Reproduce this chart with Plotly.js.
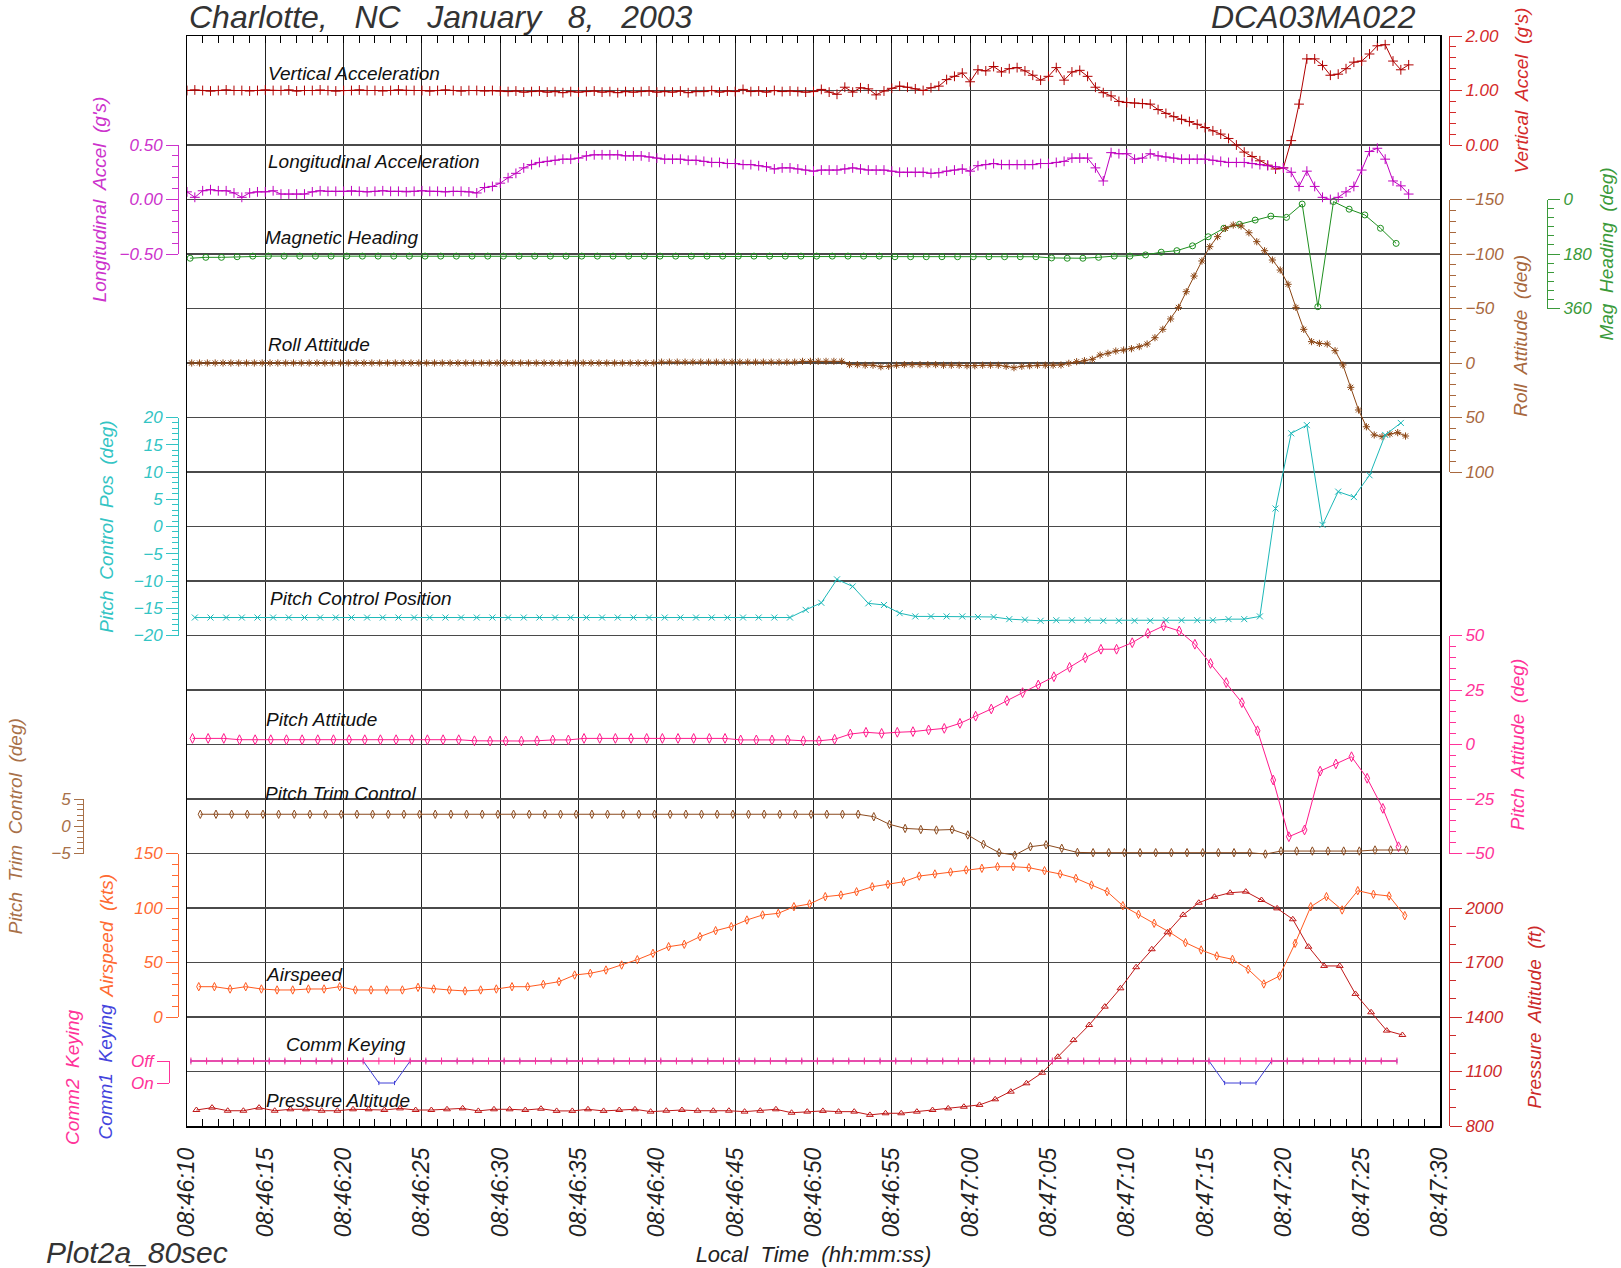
<!DOCTYPE html>
<html><head><meta charset="utf-8">
<script src="https://cdn.plot.ly/plotly-3.0.1.min.js"></script>
<style>html,body{margin:0;padding:0;background:#fff}#chart{width:1621px;height:1268px}</style>
</head><body><div id="chart"></div>
<script>
// ================= DATA =================
// Times are seconds after 08:46:00 local; each series has a start time and a sample step.
const vertAccelStart = 10, vertAccelStep = 0.5;
const vertAccel = [
 1.00,1.01,1.00,0.99,1.00,1.01,1.00,1.00,0.99,1.00,
 1.01,1.00,1.00,1.01,0.99,1.00,1.00,1.01,1.00,0.99,
 1.00,1.00,1.01,1.00,1.00,0.99,1.00,1.01,1.00,1.00,
 1.00,0.99,1.00,1.01,1.00,0.99,1.00,1.00,0.99,1.00,
 0.99,0.98,0.99,0.97,0.98,0.99,0.97,0.98,0.96,0.98,
 0.97,0.98,0.99,0.97,0.98,0.96,0.98,0.97,0.98,0.99,
 0.97,0.98,0.97,0.99,0.96,0.98,0.98,1.00,0.97,0.99,
 0.98,1.02,0.98,0.99,0.97,1.00,0.98,0.99,
 0.98,0.97,0.98,1.02,0.97,0.93,1.06,0.97,1.05,1.03,
 0.92,0.99,1.04,1.08,1.06,1.03,1.00,1.05,1.08,1.20,
 1.26,1.32,1.16,1.38,1.36,1.44,1.34,1.40,1.42,1.36,
 1.28,1.19,1.26,1.42,1.19,1.34,1.37,1.26,1.06,0.96,
 0.90,0.80,0.78,0.77,0.76,0.75,0.65,0.58,0.52,0.47,
 0.43,0.38,0.32,0.26,0.20,0.12,0.00,-0.13,-0.21,-0.29,
 -0.37,-0.44,-0.42,0.08,0.75,1.58,1.58,1.46,1.28,1.30,
 1.40,1.52,1.54,1.67,1.82,1.84,1.54,1.38,1.47
];
const longAccelStart = 10, longAccelStep = 0.5;
const longAccel = [
 0.07,0.02,0.08,0.09,0.08,0.08,0.06,0.02,0.06,0.07,
 0.07,0.08,0.05,0.05,0.05,0.05,0.07,0.08,0.075,0.075,
 0.075,0.08,0.075,0.07,0.075,0.08,0.075,0.075,0.07,0.075,
 0.08,0.075,0.075,0.07,0.075,0.075,0.07,0.06,0.11,0.12,
 0.15,0.20,0.24,0.29,0.32,0.34,0.35,0.36,0.37,0.37,
 0.38,0.40,0.41,0.41,0.41,0.41,0.40,0.40,0.40,0.39,
 0.38,0.37,0.37,0.37,0.36,0.36,0.35,0.34,0.34,0.33,
 0.33,0.32,0.32,0.31,0.30,0.28,0.29,0.29,0.28,0.27,
 0.26,0.27,0.27,0.27,0.28,0.29,0.28,0.27,0.27,0.27,
 0.26,0.25,0.25,0.25,0.25,0.24,0.245,0.26,0.27,0.28,
 0.26,0.31,0.32,0.33,0.32,0.32,0.32,0.32,0.32,0.33,
 0.33,0.34,0.35,0.38,0.38,0.38,0.29,0.17,0.43,0.42,
 0.42,0.37,0.38,0.42,0.40,0.39,0.38,0.37,0.37,0.37,
 0.37,0.36,0.35,0.34,0.34,0.34,0.33,0.32,0.31,0.30,
 0.29,0.25,0.12,0.26,0.12,0.02,0.00,0.02,0.07,0.12,
 0.27,0.44,0.47,0.37,0.17,0.125,0.05
];
const magHeadingStart = 10.2, magHeadingStep = 1;
const magHeading = [
 194,191,191,189,187,187,187,187,187,187,
 187,187,187,187,187,187,187,187,187,187,
 187,187,187,187,187,187,187,187,187,187,
 187,187,187,187,187,187,187,187,187,187,
 187,187,187,187,187,189,189,189,189,189,
 189,189,189,189,189,193,194,194,191,187,
 187,183,174,169,153,123,95,82,68,55,
 59,15,354,7,32,51,95,145
];
const rollAttStart = 10.3, rollAttStep = 0.5;
const rollAtt = [
 0,0,0,0,0,0,0,0,0,0,
 0,0,0,0,0,0,0,0,0,0,
 0,0,0,0,0,0,0,0,0,0,
 0,0,0,0,0,0,0,0,0,0,
 0,0,0,0,0,0,0,0,0,0,
 0,0,0,0,0,0,0,0,0,0,
 -0.8,-0.8,-0.8,-0.8,-0.8,-0.8,-0.8,-0.8,-0.8,-0.8,
 -0.8,-0.8,-0.8,-0.8,-0.8,-0.8,-0.8,-0.8,
 -1.5,-1.5,-1.5,-1.5,-1.5,-1.5,
 1.5,1.5,2,2,3.4,3,2,1.5,1.5,1.5,1.5,1.5,
 2,2,2,2.5,2.5,2,2,2,3,4.3,3,2.5,2,2,2,
 1.8,
 0.3,-1.2,-2.1,-3.4,-7.3,-8.9,-11,-11.9,-13.1,-15,
 -17.4,-23.2,-30.9,-40.4,-51,-65.4,-79.8,-93.6,-106.7,-115.9,
 -123.5,-126.6,-125.7,-119.5,-111.3,-103,-94.5,-85.3,-72.2,-51,
 -30.9,-19.6,-18,-17.4,-11.3,1.8,22.3,43.1,58.5,66,
 67.6,65.1,63.9,67
];
const pitchCtrlStart = 10.5, pitchCtrlStep = 1;
const pitchCtrl = [
 -16.7,-16.7,-16.7,-16.7,-16.7,-16.7,-16.7,-16.7,-16.7,-16.7,
 -16.7,-16.7,-16.7,-16.7,-16.7,-16.7,-16.7,-16.7,-16.7,-16.7,
 -16.7,-16.7,-16.7,-16.7,-16.7,-16.7,-16.7,-16.7,-16.7,-16.7,
 -16.7,-16.7,-16.7,-16.7,-16.7,-16.7,-16.7,-16.7,-16.7,
 -15.3,-14,-9.7,-11,-14.1,-14.4,-15.9,-16.5,-16.5,-16.5,
 -16.5,-16.6,-16.6,-17,-17.1,-17.3,-17.2,-17.2,-17.2,-17.3,
 -17.3,-17.3,-17.3,-17.2,-17.2,-17.2,-17.2,-17.0,-17.0,-16.5,
 3.3,17.1,18.6,0.3,6.4,5.4,9.4,16.8,19.0
];
const pitchAttStart = 10.35, pitchAttStep = 1;
const pitchAtt = [
 2.8,2.8,2.8,2.2,2.2,2.2,2.2,2.2,2.2,2.2,
 2.2,2.2,2.2,2.2,2.2,2.2,2.2,2.2,1.7,1.6,
 1.6,1.6,1.7,2.1,2.1,2.8,2.8,2.8,2.8,2.8,
 2.8,2.8,2.8,2.8,2.8,2.1,2.1,2.1,2.1,1.7,
 1.7,2.4,4.8,5.6,5.1,5.6,5.9,6.7,7.4,9.7,
 13,16.3,20.1,23.8,27.3,31.1,35.4,39.8,43.7,43.7,
 46.7,51.0,54.4,52.1,46,37.2,28.4,19.2,6.3,-16.3,
 -42.3,-39.2,-12.2,-8.9,-5.6,-15.5,-29.3,-46.9
];
const pitchTrimStart = 10.85, pitchTrimStep = 1;
const pitchTrim = [
 2.2,2.2,2.2,2.2,2.2,2.2,2.2,2.2,2.2,2.2,
 2.2,2.2,2.2,2.2,2.2,2.2,2.2,2.2,2.2,2.2,
 2.2,2.2,2.2,2.2,2.2,2.2,2.2,2.2,2.2,2.2,
 2.2,2.2,2.2,2.2,2.2,2.2,2.2,2.2,2.2,2.2,
 2.2,2.2,2.2,
 1.75,0.35,-0.4,-0.6,-0.7,-0.6,-1.6,-3.3,-4.85,-5.3,-3.75,-3.4,-4.05,-4.8,
 -4.85,-4.85,-4.85,-4.85,-4.85,-4.85,-4.85,-4.85,-4.85,-4.85,-4.85,
 -5.1,
 -4.55,-4.55,-4.55,-4.55,-4.55,-4.55,
 -4.36,-4.36,-4.36
];
const airspeedStart = 10.75, airspeedStep = 1;
const airspeed = [
 27.8,27.8,25.7,27.8,25.7,24.8,24.8,25.7,25.7,27.8,
 24.8,24.8,24.8,24.8,27.2,25.7,24.8,23.9,24.8,25.7,
 27.8,27.8,30,32.4,38.5,40.1,43.1,47.7,52.6,58.4,
 64.5,66.7,73.7,79.2,82.9,89,93.6,95.1,101.2,103.7,
 110.4,111.9,114.9,119.5,121.7,124.1,129.3,131.2,133,134.9,
 136.4,137.9,137.9,137,134.2,131.2,127.2,121.1,115,102.1,
 94.2,86,77.7,68.2,61.5,56,52.9,43.8,30.3,37.6,
 67.6,101.2,110.4,98.2,115.9,112.6,111,93
];
const pressAltStart = 10.6, pressAltStep = 1;
const pressAlt = [
 888,901,884,884,901,884,892,892,884,884,
 892,892,888,897,888,888,892,897,883,892,
 892,888,895,883,883,892,883,888,892,879,
 884,888,884,884,884,879,884,892,873,879,
 883,879,879,861,870,870,879,888,897,906,
 916,947,989,1035,1093,1181,1273,1356,1457,1558,
 1674,1773,1866,1962,2029,2062,2084,2090,2044,1998,
 1938,1787,1681,1681,1527,1426,1325,1301
];
const commStart = 10.25, commStep = 1;
const comm1 = [
 'Off','Off','Off','Off','Off','Off','Off','Off','Off','Off',
 'Off','Off','On','On','Off','Off','Off','Off','Off','Off',
 'Off','Off','Off','Off','Off','Off','Off','Off','Off','Off',
 'Off','Off','Off','Off','Off','Off','Off','Off','Off','Off',
 'Off','Off','Off','Off','Off','Off','Off','Off','Off','Off',
 'Off','Off','Off','Off','Off','Off','Off','Off','Off','Off',
 'Off','Off','Off','Off','Off','Off','On','On','On','Off',
 'Off','Off','Off','Off','Off','Off','Off','Off'
];
const comm2 = [
 'Off','Off','Off','Off','Off','Off','Off','Off','Off','Off',
 'Off','Off','Off','Off','Off','Off','Off','Off','Off','Off',
 'Off','Off','Off','Off','Off','Off','Off','Off','Off','Off',
 'Off','Off','Off','Off','Off','Off','Off','Off','Off','Off',
 'Off','Off','Off','Off','Off','Off','Off','Off','Off','Off',
 'Off','Off','Off','Off','Off','Off','Off','Off','Off','Off',
 'Off','Off','Off','Off','Off','Off','Off','Off','Off','Off',
 'Off','Off','Off','Off','Off','Off','Off','Off'
];
const commCategories = ['On', 'Off'];

// ================= HELPERS =================
function clock(sec) {
  const total = 8 * 3600 + 46 * 60 + sec;
  const h = Math.floor(total / 3600);
  const m = Math.floor((total - h * 3600) / 60);
  const s = total - h * 3600 - m * 60;
  return '2003-01-08 ' + String(h).padStart(2, '0') + ':' + String(m).padStart(2, '0') + ':' + s.toFixed(3).padStart(6, '0');
}
function sampleTimes(start, step, n) { const a = []; for (let i = 0; i < n; i++) a.push(clock(start + i * step)); return a; }

const W = 1621, H = 1268, PLOT_TOP = 36, PLOT_BOTTOM = 1126, PLOT_H = PLOT_BOTTOM - PLOT_TOP;
const FONT = 'Liberation Sans, Arial, sans-serif';
const xFrac = px => px / W;
const yFrac = py => (PLOT_BOTTOM - py) / PLOT_H;
function fullRange(dom, rng) {
  const k = (rng[1] - rng[0]) / (dom[1] - dom[0]);
  return [rng[0] - dom[0] * k, rng[1] + (1 - dom[1]) * k];
}

// ================= CHANNEL STYLES =================
const channels = [
  {name:'Vertical Acceleration', t0:vertAccelStart, dt:vertAccelStep, values:vertAccel, line:'#b00000', axis:'#d42a2a', symbol:'cross-thin-open', msize:7,
   side:'right', axisX:1449, top:36, bottom:145, range:[0,2], dtick:1, tick0:0, minor:0.2, fmt:'.2f', title:"Vertical  Accel  (g's)", standoff:16, label:[266,73.5]},
  {name:'Longitudinal Acceleration', t0:longAccelStart, dt:longAccelStep, values:longAccel, line:'#bf00bf', axis:'#cc33cc', symbol:'cross-thin-open', msize:7,
   side:'left', axisX:178, top:145, bottom:254, range:[-0.5,0.5], dtick:0.5, tick0:0, minor:0.1, fmt:'.2f', title:"Longitudinal  Accel  (g's)", standoff:6, label:[266,162]},
  {name:'Magnetic Heading', t0:magHeadingStart, dt:magHeadingStep, values:magHeading, line:'#1f8f1f', axis:'#3a9a3a', symbol:'circle-open', msize:6,
   side:'right', axisX:1547, top:199.5, bottom:308.5, range:[360,0], dtick:180, tick0:0, minor:30, fmt:'d', title:'Mag  Heading  (deg)', standoff:8, label:[263,238]},
  {name:'Roll Attitude', t0:rollAttStart, dt:rollAttStep, values:rollAtt, line:'#8b4513', axis:'#a8683e', symbol:'asterisk-open', msize:6,
   side:'right', axisX:1449, top:199.5, bottom:472, range:[100,-150], dtick:50, tick0:0, minor:10, fmt:'d', title:'Roll  Attitude  (deg)', standoff:10, label:[266,344]},
  {name:'Pitch Control Position', t0:pitchCtrlStart, dt:pitchCtrlStep, values:pitchCtrl, line:'#1cb8b8', axis:'#33c4c4', symbol:'x-thin-open', msize:6,
   side:'left', axisX:178, top:417.5, bottom:635.5, range:[-20,20], dtick:5, tick0:0, minor:1, fmt:'d', title:'Pitch  Control  Pos  (deg)', standoff:14, label:[268,598.5]},
  {name:'Pitch Attitude', t0:pitchAttStart, dt:pitchAttStep, values:pitchAtt, line:'#ff1a8c', axis:'#ff3399', symbol:'diamond-tall-open', msize:7,
   side:'right', axisX:1449, top:635.5, bottom:853.5, range:[-50,50], dtick:25, tick0:0, minor:5, fmt:'d', title:'Pitch  Attitude  (deg)', standoff:16, label:[264,719]},
  {name:'Pitch Trim Control', t0:pitchTrimStart, dt:pitchTrimStep, values:pitchTrim, line:'#8b4a1e', axis:'#a87048', symbol:'diamond-tall-open', msize:6,
   side:'left', axisX:83, top:799, bottom:853.5, range:[-5,5], dtick:5, tick0:0, minor:1, fmt:'d', title:'Pitch  Trim  Control  (deg)', standoff:22, ticklen:9, label:[263,793]},
  {name:'Airspeed', t0:airspeedStart, dt:airspeedStep, values:airspeed, line:'#ff5a1f', axis:'#ff6a33', symbol:'diamond-tall-open', msize:6,
   side:'left', axisX:178, top:853.5, bottom:1017, range:[0,150], dtick:50, tick0:0, minor:10, fmt:'d', title:'Airspeed  (kts)', standoff:14, label:[264,974.5]},
  {name:'Pressure Altitude', t0:pressAltStart, dt:pressAltStep, values:pressAlt, line:'#c01818', axis:'#cc2a2a', symbol:'triangle-up-open', msize:6,
   side:'right', axisX:1449, top:908, bottom:1126, range:[800,2000], dtick:300, tick0:800, minor:100, fmt:'d', title:'Pressure  Altitude  (ft)', standoff:24, label:[264,1100]},
];
const comm = {name:'Comm Keying', axisX:169, top:1061, bottom:1083, label:[284,1044], axis:'#ff3399'};

// ================= BUILD =================
const xRange = [clock(10), clock(90)];
const xDomain = [xFrac(187), xFrac(1440)];
const traces = [];
const layout = {
  width: W, height: H,
  margin: {l:0, r:0, t:PLOT_TOP, b:H - PLOT_BOTTOM, pad:0},
  paper_bgcolor: '#ffffff', plot_bgcolor: 'rgba(0,0,0,0)',
  showlegend: false, hovermode: false,
  font: {family: FONT, color: '#222'},
  title: {text: 'Charlotte,\u00a0\u00a0 NC\u00a0\u00a0 January\u00a0\u00a0 8,\u00a0\u00a0 2003', x: xFrac(189), xanchor: 'left', xref: 'container',
          y: 1 - 17 / H, yref: 'container', yanchor: 'middle', font: {family: FONT, size: 32, style: 'italic', color: '#333'}},
  xaxis: {type:'date', domain:xDomain, range:xRange, anchor:'y', dtick:5000, tick0:clock(10), tickformat:'%H:%M:%S', tickangle:-90,
          ticks:'inside', ticklen:7, tickcolor:'#000', showgrid:true, gridcolor:'#222', gridwidth:1, zeroline:false,
          showline:true, linecolor:'#000', linewidth:1.5, mirror:'ticks',
          minor:{dtick:1000, ticks:'inside', ticklen:7, tickcolor:'#000', tickwidth:1, showgrid:false},
          tickfont:{family:FONT, size:23, style:'italic', color:'#222'}, ticklabelstandoff:11,
          title:{text:'Local  Time  (hh:mm:ss)', font:{family:FONT, size:22, style:'italic', color:'#222'}, standoff:10}},
  xaxis2: {type:'date', domain:xDomain, range:xRange, visible:false, anchor:'y'},
  yaxis: {domain:[0,1], range:[0,20], dtick:1, tick0:0, showgrid:true, gridcolor:'#4a4a4a', gridwidth:1.5, showticklabels:false,
          ticks:'', showline:true, mirror:true, linecolor:'#000', linewidth:1.5, zeroline:false},
  annotations: []
};

// invisible anchor trace so the base grid subplot (x, y) exists and draws its row grid
traces.push({type:'scatter', mode:'markers', x:[clock(50)], y:[10], xaxis:'x', yaxis:'y', marker:{opacity:0, size:1}, hoverinfo:'skip'});

function decoAxis(c, dom) {
  return {anchor:'free', position:xFrac(c.axisX), side:c.side, domain:dom, range:c.range, dtick:c.dtick, tick0:c.tick0,
    tickformat:c.fmt, ticks:'outside', ticklen:c.ticklen || 12, tickwidth:1, tickcolor:c.axis,
    showline:true, linecolor:c.axis, linewidth:1, showgrid:false, zeroline:false,
    minor:{dtick:c.minor, tick0:c.tick0, ticks:'outside', ticklen:6, tickwidth:1, tickcolor:c.axis, showgrid:false},
    tickfont:{family:FONT, size:17, style:'italic', color:c.axis},
    title:{text:c.title, font:{family:FONT, size:19, style:'italic', color:c.axis}, standoff:c.standoff}};
}
function seriesLabel(text, pos) {
  return {text:text, xref:'paper', yref:'paper', x:xFrac(pos[0]), y:yFrac(pos[1]), xanchor:'left', yanchor:'middle',
          showarrow:false, font:{family:FONT, size:19, style:'italic', color:'#111'}};
}

channels.forEach((c, i) => {
  const dataAx = 'y' + (i + 2), decoAx = 'y' + (i + 12);
  const dom = [yFrac(c.bottom), yFrac(c.top)];
  layout['yaxis' + (i + 2)] = {overlaying:'y', anchor:'x', range:fullRange(dom, c.range), visible:false};
  layout['yaxis' + (i + 12)] = decoAxis(c, dom);
  traces.push({type:'scatter', mode:'lines+markers', name:c.name, x:sampleTimes(c.t0, c.dt, c.values.length), y:c.values,
    xaxis:'x', yaxis:dataAx, line:{color:c.line, width:1},
    marker:{symbol:c.symbol, size:c.msize, color:c.line, line:{color:c.line, width:1}}});
  traces.push({type:'scatter', mode:'markers', x:[clock(50), clock(50)], y:c.range, xaxis:'x2', yaxis:decoAx,
    marker:{opacity:0, size:1}, hoverinfo:'skip'});
  layout.annotations.push(seriesLabel(c.name, c.label));
});

// Comm keying (category axis)
{
  const dom = [yFrac(comm.bottom), yFrac(comm.top)];
  layout.yaxis11 = {overlaying:'y', anchor:'x', type:'category', categoryorder:'array', categoryarray:commCategories,
                    range:fullRange(dom, [0, 1]), visible:false};
  layout.yaxis21 = {anchor:'free', position:xFrac(comm.axisX), side:'left', domain:dom, type:'category',
    categoryorder:'array', categoryarray:commCategories, range:[0, 1], ticks:'outside', ticklen:12, tickwidth:1,
    tickcolor:comm.axis, showline:true, linecolor:comm.axis, linewidth:1, showgrid:false, zeroline:false,
    tickfont:{family:FONT, size:17, style:'italic', color:comm.axis},
    title:{text:'Comm1  Keying', font:{family:FONT, size:19, style:'italic', color:'#4444dd'}, standoff:12}};
  const ct = sampleTimes(commStart, commStep, comm1.length);
  traces.push({type:'scatter', mode:'lines+markers', name:'Comm1 Keying', x:ct, y:comm1, xaxis:'x', yaxis:'y11',
    line:{color:'#3f3fd6', width:1}, marker:{symbol:'line-ns-open', size:3, color:'#3f3fd6', line:{color:'#3f3fd6', width:1}}});
  traces.push({type:'scatter', mode:'lines+markers', name:'Comm2 Keying', x:sampleTimes(commStart, commStep, comm2.length), y:comm2,
    xaxis:'x', yaxis:'y11', line:{color:'#ff3399', width:1.5},
    marker:{symbol:'line-ns-open', size:5, color:'#ff3399', line:{color:'#ff3399', width:1}}});
  traces.push({type:'scatter', mode:'markers', x:[clock(50), clock(50)], y:commCategories, xaxis:'x2', yaxis:'y21',
    marker:{opacity:0, size:1}, hoverinfo:'skip'});
  layout.annotations.push(seriesLabel(comm.name, comm.label));
  layout.annotations.push({text:'Comm2  Keying', xref:'paper', yref:'paper', x:xFrac(72), y:yFrac(1077), textangle:-90,
    xanchor:'center', yanchor:'middle', showarrow:false, font:{family:FONT, size:19, style:'italic', color:'#ff3399'}});
}

// Header / footer texts
layout.annotations.push({text:'DCA03MA022', xref:'paper', yref:'paper', x:xFrac(1418), y:yFrac(17), xanchor:'right', yanchor:'middle',
  showarrow:false, font:{family:FONT, size:32, style:'italic', color:'#333'}});
layout.annotations.push({text:'Plot2a_80sec', xref:'paper', yref:'paper', x:xFrac(44), y:yFrac(1252), xanchor:'left', yanchor:'middle',
  showarrow:false, font:{family:FONT, size:30, style:'italic', color:'#333'}});

Plotly.newPlot('chart', traces, layout, {staticPlot:true, displayModeBar:false});
</script>
</body></html>
